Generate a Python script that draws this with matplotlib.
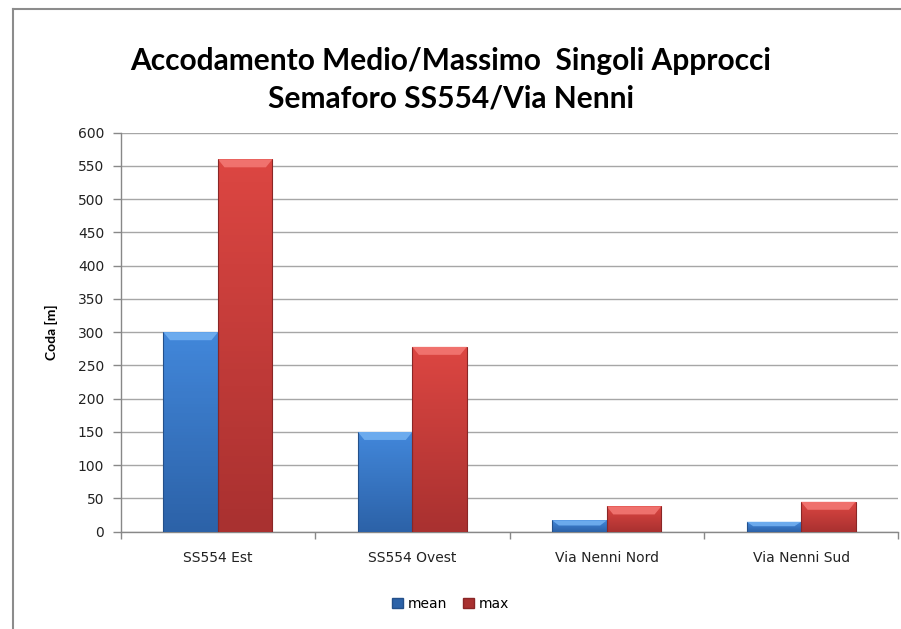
import matplotlib
matplotlib.use("Agg")
import matplotlib.pyplot as plt
import numpy as np
from matplotlib.patches import Polygon
from matplotlib.lines import Line2D
from matplotlib.colors import LinearSegmentedColormap

# Queue lengths per approach [m]
approaches = ["SS554 Est", "SS554 Ovest", "Via Nenni Nord", "Via Nenni Sud"]
mean_q = [300, 150, 17, 15]
max_q = [560, 278, 38, 45]
series_names = ["mean", "max"]

yticks = list(range(0, 601, 50))

fig = plt.figure(figsize=(9.01, 6.29), dpi=100)
ax = fig.add_axes([0.134, 0.1547, 0.863, 0.6343])

x = np.arange(len(approaches))
width = 0.28

# (top colour, bottom colour, bevel colour, edge colour)
styles = {
    "mean": ("#4287da", "#2c62a8", "#74b2f2", "#24508a"),
    "max": ("#dc4642", "#a93130", "#f47a76", "#8a2626"),
}

ax.set_xlim(-0.5, len(approaches) - 0.5)
ax.set_ylim(0, 600)

px_per_unit = ax.get_window_extent().height / 600.0
bevel = 8 / px_per_unit


def bevel_bars(xs, vals, name):
    top_c, bot_c, bev_c, edge_c = styles[name]
    cmap = LinearSegmentedColormap.from_list(name, [bot_c, top_c])
    bars = ax.bar(xs, vals, width, color=top_c, edgecolor=edge_c,
                  linewidth=0.6, zorder=3)
    for b in bars:
        x0, w, h = b.get_x(), b.get_width(), b.get_height()
        grad = np.linspace(0, 1, 64).reshape(-1, 1)
        im = ax.imshow(grad, cmap=cmap, origin="lower", aspect="auto",
                       extent=[x0, x0 + w, 0, h], zorder=3.5)
        im.set_clip_path(b)
        bh = min(bevel, h * 0.45)
        inset = w * 0.12
        top = Polygon([[x0, h], [x0 + w, h], [x0 + w - inset, h - bh],
                       [x0 + inset, h - bh]], closed=True,
                      facecolor=bev_c, edgecolor="none", alpha=0.85,
                      zorder=4)
        ax.add_patch(top)
        ax.add_patch(Polygon([[x0, h], [x0, 0]], closed=False, fill=False,
                             edgecolor=edge_c, linewidth=0.8, zorder=4))
        ax.add_patch(Polygon([[x0 + w, h], [x0 + w, 0]], closed=False,
                             fill=False, edgecolor=edge_c, linewidth=0.8,
                             zorder=4))
    ax.set_xlim(-0.5, len(approaches) - 0.5)
    ax.set_ylim(0, 600)


bevel_bars(x - width / 2, mean_q, "mean")
bevel_bars(x + width / 2, max_q, "max")

ax.set_yticks(yticks)
ax.set_yticklabels([str(v) for v in yticks], fontsize=10, color="#222222")
ax.set_xticks(x)
ax.set_xticklabels(approaches, fontsize=10, color="#222222")
ax.tick_params(axis="x", length=0, pad=14)
ax.tick_params(axis="y", length=6, color="#888888", width=1, pad=6)

# category boundary ticks on the x axis
ax.set_xticks(np.arange(-0.5, len(approaches) + 0.5, 1), minor=True)
ax.tick_params(axis="x", which="minor", length=5, color="#888888", width=1)

ax.grid(axis="y", color="#a6a6a6", linewidth=1, zorder=0)
ax.set_axisbelow(True)
for s in ["top", "right"]:
    ax.spines[s].set_visible(False)
ax.spines["left"].set_color("#888888")
ax.spines["bottom"].set_color("#888888")
ax.spines["left"].set_linewidth(1)
ax.spines["bottom"].set_linewidth(1)

ax.set_ylabel("Coda [m]", fontsize=10, fontweight="bold", family="Lato",
              labelpad=14)

fig.text(0.5, 0.903, "Accodamento Medio/Massimo  Singoli Approcci",
         ha="center", va="center", fontsize=21.5, fontweight="bold",
         family="Lato")
fig.text(0.5, 0.843, "Semaforo SS554/Via Nenni", ha="center", va="center",
         fontsize=21.5, fontweight="bold", family="Lato")

handles = [plt.Rectangle((0, 0), 1, 1, facecolor=styles[n][1],
                         edgecolor=styles[n][3]) for n in series_names]
fig.legend(handles, series_names, loc="center", bbox_to_anchor=(0.5, 0.04),
           ncol=2, frameon=False, fontsize=10, handlelength=0.8,
           handleheight=0.8, handletextpad=0.3, columnspacing=1.2)

# chart border
fig.add_artist(Line2D([0.0144, 0.0144], [0, 0.986], color="#8c8c8c",
                      linewidth=1.5, transform=fig.transFigure))
fig.add_artist(Line2D([0.0144, 1.0], [0.986, 0.986], color="#8c8c8c",
                      linewidth=1.5, transform=fig.transFigure))

fig.savefig("out.png", dpi=100, facecolor="white")
